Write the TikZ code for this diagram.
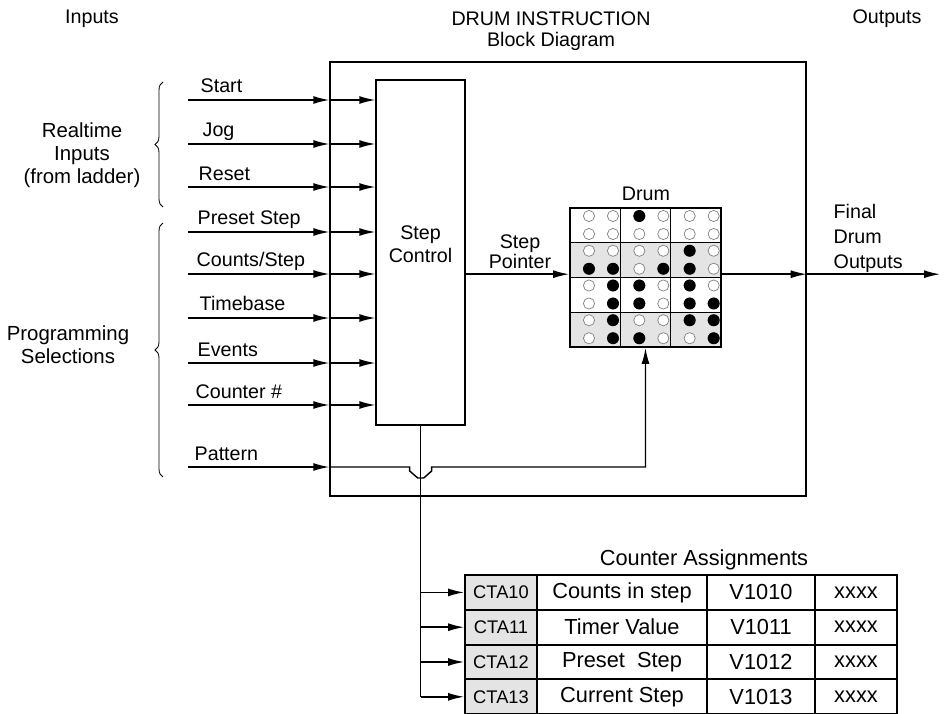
\documentclass[tikz,border=0pt]{standalone}
\usepackage{fontspec}
\setmainfont{Liberation Sans}
\usetikzlibrary{arrows.meta,positioning,decorations.pathreplacing}
\definecolor{rowgray}{HTML}{E4E4E4}
\definecolor{ring}{HTML}{808080}

\begin{document}
\begin{tikzpicture}[
  line width=1pt,
  txt/.style={font=\fontsize{14}{16}\selectfont,inner sep=0pt},
  lbl/.style={txt,anchor=base west},
  grp/.style={font=\fontsize{14.5}{16.3}\selectfont,align=center,inner sep=0pt},
  ar/.style={-{Latex[length=4mm,width=2mm]}},
  cell/.style={draw,line width=1.4pt,minimum height=8.7mm,inner sep=0pt,font=\fontsize{15.5}{18}\selectfont},
  cta/.style={cell,fill=rowgray,minimum width=18mm,font=\fontsize{13}{15}\selectfont},
  hole/.style={draw=ring,line width=0.5pt,fill=white},
  brc/.style={decorate,decoration={brace,amplitude=2mm},line width=0.6pt},
]
\useasboundingbox (0,0) rectangle (23.6,17.825);

% headings
\node[txt] (hin) at (2.3,17.35) {Inputs};
\node[txt] (ttl) at (13.775,17.35) {DRUM INSTRUCTION};
\node[txt] (sub) at (13.775,16.8) {Block Diagram};
\node[txt] (hout) at (22.175,17.35) {Outputs};

% block + step control
\node[draw,minimum width=119mm,minimum height=108.5mm,inner sep=0pt] (blk) at (14.2,10.85) {};
\node[draw,minimum width=22.25mm,minimum height=86.25mm,inner sep=0pt] (ctl) at (10.5125,11.5125) {};
\node[txt,align=center,font=\fontsize{14}{16.3}\selectfont] (sct) at (10.5125,11.725) {Step\\Control};

% input groups
\node[grp] (rt) at (2.05,13.95) {Realtime\\Inputs\\(from ladder)};
\node[grp] (ps) at (1.7,9.2125) {Programming\\Selections};
\draw[brc] (4.075,12.65) -- (4.075,15.775);
\draw[brc] (4.075,5.9) -- (4.075,12.25);

% inputs
\coordinate (i1) at (4.7,15.325); \node[lbl] (l1) at (5.0,15.5) {Start};
\coordinate (i2) at (4.7,14.225); \node[lbl] (l2) at (5.05,14.4) {Jog};
\coordinate (i3) at (4.7,13.15);  \node[lbl] (l3) at (4.95,13.32) {Reset};
\coordinate (i4) at (4.7,12.025); \node[lbl] (l4) at (4.925,12.2) {Preset Step};
\coordinate (i5) at (4.7,10.975); \node[lbl] (l5) at (4.9,11.15) {Counts/Step};
\coordinate (i6) at (4.7,9.875);  \node[lbl] (l6) at (4.975,10.05) {Timebase};
\coordinate (i7) at (4.7,8.75);   \node[lbl] (l7) at (4.925,8.92) {Events};
\coordinate (i8) at (4.7,7.7);    \node[lbl] (l8) at (4.875,7.87) {Counter \#};
\coordinate (i9) at (4.7,6.15);   \node[lbl] (l9) at (4.85,6.32) {Pattern};
\draw[ar] (i1) -- (i1 -| blk.west); \draw[ar] (i1 -| blk.west) -- (i1 -| ctl.west);
\draw[ar] (i2) -- (i2 -| blk.west); \draw[ar] (i2 -| blk.west) -- (i2 -| ctl.west);
\draw[ar] (i3) -- (i3 -| blk.west); \draw[ar] (i3 -| blk.west) -- (i3 -| ctl.west);
\draw[ar] (i4) -- (i4 -| blk.west); \draw[ar] (i4 -| blk.west) -- (i4 -| ctl.west);
\draw[ar] (i5) -- (i5 -| blk.west); \draw[ar] (i5 -| blk.west) -- (i5 -| ctl.west);
\draw[ar] (i6) -- (i6 -| blk.west); \draw[ar] (i6 -| blk.west) -- (i6 -| ctl.west);
\draw[ar] (i7) -- (i7 -| blk.west); \draw[ar] (i7 -| blk.west) -- (i7 -| ctl.west);
\draw[ar] (i8) -- (i8 -| blk.west); \draw[ar] (i8 -| blk.west) -- (i8 -| ctl.west);
\draw[ar] (i9) -- (i9 -| blk.west);

% drum grid
\fill[rowgray] (14.25,11.75625) rectangle (18.025,10.8875);
\fill[rowgray] (14.25,10.01875) rectangle (18.025,9.15);
\draw (15.508,12.625) -- (15.508,9.15);
\draw (16.767,12.625) -- (16.767,9.15);
\draw (14.25,11.75625) -- (18.025,11.75625);
\draw (14.25,10.8875) -- (18.025,10.8875);
\draw (14.25,10.01875) -- (18.025,10.01875);
\node[draw,line width=1.4pt,minimum width=37.75mm,minimum height=34.75mm,inner sep=0pt] (drum) at (16.1375,10.8875) {};
\node[txt] (dl) at (16.15,12.975) {Drum};
\foreach \x in {14.725,15.325,15.983,16.583,17.242,17.842}
  \foreach \y in {12.425,11.975,11.556,11.106,10.6875,10.2375,9.819,9.369}
    \draw[hole] (\x,\y) circle (0.14);
\foreach \x/\y in {15.983/12.425, 17.242/11.556,
    14.725/11.106, 15.325/11.106, 16.583/11.106, 17.242/11.106,
    15.325/10.6875, 15.983/10.6875, 17.242/10.6875,
    15.325/10.2375, 15.983/10.2375, 17.242/10.2375, 17.842/10.2375,
    15.325/9.819, 17.242/9.819, 17.842/9.819,
    15.325/9.369, 15.983/9.369, 17.842/9.369}
  \fill (\x,\y) circle (0.15);

% step pointer + outputs
\coordinate (sp) at (0,10.97);
\coordinate (out) at (23.5,10.97);
\draw[ar] (ctl.east |- sp) -- (drum.west |- sp);
\node[txt,align=center,font=\fontsize{14}{14.2}\selectfont] (spl) at (13.0,11.525) {Step\\Pointer};
\draw[ar] (drum.east |- sp) -- (blk.east |- sp);
\draw[ar] (blk.east |- sp) -- (out);
\node[txt,align=left,anchor=west,font=\fontsize{14}{17.8}\selectfont] (fdo) at (20.825,11.875) {Final\\Drum\\Outputs};

% pattern into drum, hopping over the counter line
\draw[ar] (blk.west |- i9) -- ([xshift=-2.7mm]ctl.south |- i9) -- ++(0,-0.1) -- ++(0.2,-0.175)
  -- ++(0.15,0) -- ++(0.2,0.175) -- ++(0,0.1) -| (drum.south);

% counter assignments
\node[txt,font=\fontsize{15.5}{18}\selectfont] (cal) at (17.6,3.825) {Counter Assignments};
\node[cta] (a1) at (12.525,3.015) {CTA10};
\node[cell,minimum width=42.5mm] (b1) at (15.55,3.015) {Counts in step};
\node[cell,minimum width=27mm] (c1) at (19.025,3.015) {V1010};
\node[cell,minimum width=20.5mm] (d1) at (21.4,3.015) {xxxx};
\node[cta] (a2) at (12.525,2.145) {CTA11};
\node[cell,minimum width=42.5mm] (b2) at (15.55,2.145) {Timer Value};
\node[cell,minimum width=27mm] (c2) at (19.025,2.145) {V1011};
\node[cell,minimum width=20.5mm] (d2) at (21.4,2.145) {xxxx};
\node[cta] (a3) at (12.525,1.275) {CTA12};
\node[cell,minimum width=42.5mm] (b3) at (15.55,1.275) {Preset\ \ Step};
\node[cell,minimum width=27mm] (c3) at (19.025,1.275) {V1012};
\node[cell,minimum width=20.5mm] (d3) at (21.4,1.275) {xxxx};
\node[cta] (a4) at (12.525,0.405) {CTA13};
\node[cell,minimum width=42.5mm] (b4) at (15.55,0.405) {Current Step};
\node[cell,minimum width=27mm] (c4) at (19.025,0.405) {V1013};
\node[cell,minimum width=20.5mm] (d4) at (21.4,0.405) {xxxx};
\draw (ctl.south) -- (ctl.south |- a4.west);
\draw[ar] (ctl.south |- a1.west) -- (a1.west);
\draw[ar] (ctl.south |- a2.west) -- (a2.west);
\draw[ar] (ctl.south |- a3.west) -- (a3.west);
\draw[ar] (ctl.south |- a4.west) -- (a4.west);
\end{tikzpicture}
\end{document}
